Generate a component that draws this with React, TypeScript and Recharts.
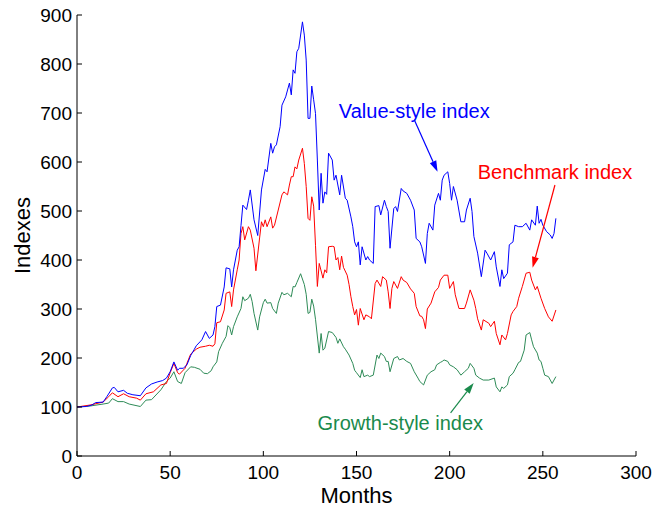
import { LineChart, Line, XAxis, YAxis, ReferenceLine, ReferenceDot } from 'recharts'

const FONT = '"Liberation Sans", Arial, Helvetica, sans-serif'
const INK = '#000000'
const BLUE = '#0000FF'
const RED = '#FF0000'
const GREEN = '#2E8B57'

const X_TICKS = [0, 50, 100, 150, 200, 250, 300]
const Y_TICKS = [0, 100, 200, 300, 400, 500, 600, 700, 800, 900]

// Value-style index
const valueMonths = [
  0, 5, 8, 10, 14, 16, 19, 20, 22, 25, 27, 30, 34, 37, 40, 43, 46, 48, 50, 52,
  54, 55, 57, 59, 61, 63, 64, 67, 69, 71, 73, 74, 75, 77, 79, 80, 82, 83, 84, 86,
  87, 88, 89, 91, 92, 93, 95, 97, 99, 101, 102, 104, 105, 106, 107, 109, 110, 112, 114, 115,
  116, 117, 118, 119, 121, 122, 123, 124, 125, 126, 127, 128, 129, 130, 131, 132, 133, 134, 135, 137,
  138, 139, 141, 142, 144, 145, 147, 148, 149, 150, 151, 152, 153, 155, 156, 157, 159, 160, 162, 163,
  165, 166, 167, 168, 170, 171, 172, 174, 175, 177, 179, 181, 182, 184, 185, 187, 188, 189, 191, 192,
  194, 195, 196, 197, 199, 200, 201, 202, 204, 206, 208, 209, 211, 212, 213, 215, 217, 219, 220, 222,
  224, 225, 227, 228, 229, 231, 232, 234, 235, 237, 239, 241, 243, 244, 246, 247, 248, 249, 250, 252,
  254, 255, 256, 257,
]
const valueLevels = [
  100, 101, 104, 109, 110, 121, 139, 140, 131, 134, 128, 125, 123, 139, 147, 151, 154, 159, 172, 192,
  175, 179, 179, 186, 205, 218, 225, 237, 254, 240, 247, 264, 305, 308, 345, 384, 382, 345, 380, 420,
  427, 470, 512, 503, 522, 543, 482, 450, 543, 585, 580, 638, 618, 631, 635, 672, 716, 733, 761, 737,
  788, 781, 825, 832, 886, 859, 808, 689, 689, 755, 727, 699, 604, 502, 577, 516, 539, 534, 618, 604,
  563, 573, 533, 573, 526, 522, 488, 468, 437, 427, 437, 390, 427, 400, 407, 400, 393, 509, 511, 492,
  522, 509, 499, 424, 505, 509, 499, 546, 541, 536, 522, 502, 444, 437, 427, 393, 454, 475, 461, 512,
  536, 522, 563, 573, 580, 556, 522, 550, 522, 478, 478, 502, 526, 499, 448, 414, 366, 420, 414, 400,
  417, 386, 346, 380, 362, 373, 431, 437, 471, 468, 468, 475, 461, 482, 471, 510, 475, 483, 471, 458,
  451, 444, 454, 485,
]

// Benchmark index
const benchMonths = [
  0, 7, 14, 17, 19, 22, 25, 28, 32, 34, 37, 41, 45, 48, 50, 52, 54, 55, 58, 59,
  61, 64, 66, 69, 71, 73, 74, 75, 77, 79, 80, 82, 83, 84, 86, 87, 88, 89, 90, 92,
  93, 95, 96, 98, 99, 100, 101, 102, 104, 105, 106, 108, 110, 111, 112, 113, 114, 115, 116, 117,
  118, 119, 121, 122, 123, 124, 125, 126, 127, 128, 129, 130, 132, 133, 134, 135, 137, 138, 139, 140,
  141, 142, 143, 145, 146, 147, 148, 149, 150, 151, 152, 154, 155, 157, 158, 160, 161, 163, 164, 166,
  167, 168, 169, 170, 172, 174, 175, 177, 179, 181, 182, 184, 185, 186, 187, 188, 190, 192, 194, 195,
  197, 199, 200, 202, 203, 205, 208, 209, 211, 213, 214, 215, 217, 218, 221, 222, 224, 225, 227, 228,
  230, 231, 233, 234, 236, 237, 239, 241, 243, 244, 246, 247, 249, 251, 253, 255, 257,
]
const benchLevels = [
  100, 104, 110, 121, 129, 121, 127, 121, 118, 114, 127, 131, 145, 148, 170, 189, 170, 167, 179, 189,
  208, 218, 222, 224, 226, 224, 229, 272, 274, 298, 332, 335, 305, 339, 380, 400, 454, 468, 441, 468,
  461, 424, 378, 445, 478, 468, 482, 468, 488, 465, 471, 502, 533, 539, 536, 533, 553, 570, 570, 590,
  586, 604, 628, 597, 550, 485, 481, 529, 510, 430, 346, 393, 363, 380, 374, 427, 428, 427, 400, 405,
  380, 408, 385, 369, 350, 325, 305, 288, 299, 267, 301, 278, 288, 284, 280, 352, 359, 346, 366, 359,
  335, 301, 342, 356, 342, 366, 359, 354, 341, 332, 305, 286, 285, 278, 260, 300, 312, 335, 344, 359,
  369, 369, 342, 356, 329, 301, 301, 312, 339, 318, 301, 280, 257, 278, 271, 264, 275, 250, 227, 247,
  237, 250, 288, 295, 305, 322, 346, 373, 375, 359, 339, 346, 322, 301, 284, 275, 298,
]

// Growth-style index
const growthMonths = [
  0, 7, 14, 17, 19, 22, 25, 28, 34, 37, 40, 45, 48, 50, 52, 54, 56, 58, 61, 63,
  66, 68, 70, 72, 73, 75, 76, 78, 80, 81, 82, 83, 84, 86, 88, 89, 90, 92, 93, 94,
  95, 97, 98, 100, 101, 102, 104, 105, 107, 108, 110, 111, 113, 115, 116, 117, 118, 120, 122, 123,
  124, 125, 126, 127, 128, 130, 131, 132, 133, 135, 137, 139, 140, 141, 143, 144, 146, 148, 149, 150,
  152, 153, 154, 156, 157, 159, 161, 162, 163, 165, 166, 167, 168, 170, 172, 173, 175, 177, 179, 181,
  183, 184, 186, 188, 190, 192, 193, 195, 196, 197, 199, 200, 202, 204, 206, 208, 210, 211, 213, 214,
  216, 218, 221, 224, 225, 227, 228, 229, 231, 232, 234, 235, 237, 238, 240, 241, 243, 244, 245, 247,
  248, 249, 250, 251, 253, 254, 255, 257,
]
const growthLevels = [
  100, 102, 106, 108, 117, 111, 111, 106, 101, 114, 115, 135, 152, 159, 172, 152, 148, 170, 182, 181,
  177, 169, 168, 174, 182, 192, 213, 230, 244, 266, 262, 247, 264, 284, 301, 325, 317, 322, 330, 315,
  291, 257, 284, 313, 320, 312, 313, 301, 291, 312, 334, 329, 332, 325, 346, 345, 354, 372, 350, 330,
  291, 293, 320, 306, 279, 210, 250, 216, 220, 254, 252, 242, 230, 239, 223, 218, 206, 189, 175, 170,
  160, 176, 162, 165, 162, 165, 206, 199, 210, 203, 193, 193, 172, 199, 203, 196, 199, 193, 189, 172,
  159, 152, 145, 165, 172, 176, 186, 191, 193, 196, 193, 186, 182, 176, 165, 172, 179, 189, 179, 165,
  159, 155, 155, 159, 141, 131, 141, 138, 145, 162, 169, 176, 191, 193, 216, 247, 252, 237, 223, 210,
  196, 193, 179, 165, 162, 155, 148, 162,
]

const toSeries = (months: number[], levels: number[]) =>
  months.map((m, i) => ({ month: m, level: levels[i] }))

const valueData = toSeries(valueMonths, valueLevels)
const benchData = toSeries(benchMonths, benchLevels)
const growthData = toSeries(growthMonths, growthLevels)

// text labels and their pointer arrows, in data units
const NOTES = [
  { text: 'Value-style index', color: BLUE, at: { x: 181, y: 705 }, from: { x: 181, y: 686 }, to: { x: 193.5, y: 580 } },
  { text: 'Benchmark index', color: RED, at: { x: 256.5, y: 580 }, from: { x: 256.5, y: 553 }, to: { x: 244.5, y: 384 } },
  { text: 'Growth-style index', color: '#1A8A4C', at: { x: 173.5, y: 67 }, from: { x: 200.5, y: 88 }, to: { x: 212.9, y: 149 } },
]

const TICK_LEN = 5

function BottomTick({ x, y, payload }: any) {
  return (
    <g>
      <line x1={x} x2={x} y1={y} y2={y - TICK_LEN} stroke={INK} />
      <text x={x} y={y + 23} textAnchor="middle" fontSize={19} fontFamily={FONT} fill={INK}>
        {payload.value}
      </text>
    </g>
  )
}

function LeftTick({ x, y, payload }: any) {
  return (
    <g>
      <line x1={x} x2={x + TICK_LEN} y1={y} y2={y} stroke={INK} />
      <text x={x - 5} y={y + 7} textAnchor="end" fontSize={19} fontFamily={FONT} fill={INK}>
        {payload.value}
      </text>
    </g>
  )
}

const TopTick = ({ x, y }: any) => <line x1={x} x2={x} y1={y} y2={y + TICK_LEN} stroke={INK} />
const RightTick = ({ x, y }: any) => <line x1={x} x2={x - TICK_LEN} y1={y} y2={y} stroke={INK} />

function arrowShape(color: string) {
  return ({ x1, y1, x2, y2 }: any) => {
    const ang = Math.atan2(y2 - y1, x2 - x1)
    const len = 11
    const half = 3.5
    const bx = x2 - len * Math.cos(ang)
    const by = y2 - len * Math.sin(ang)
    const px = half * Math.sin(ang)
    const py = -half * Math.cos(ang)
    return (
      <g>
        <line x1={x1} y1={y1} x2={bx} y2={by} stroke={color} strokeWidth={1.2} />
        <polygon points={`${x2},${y2} ${bx + px},${by + py} ${bx - px},${by - py}`} fill={color} />
      </g>
    )
  }
}

function noteShape(text: string, color: string) {
  return ({ cx, cy }: any) => (
    <text x={cx} y={cy + 7} textAnchor="middle" fontSize={20} fontFamily={FONT} fill={color}>
      {text}
    </text>
  )
}

export default function App() {
  return (
    <div style={{ position: 'absolute', left: 0, top: 0, width: 668, height: 508, background: '#fff' }}>
      <LineChart width={668} height={508} margin={{ top: 15, right: 32, bottom: 0, left: 0 }}>
        <XAxis
          dataKey="month"
          type="number"
          domain={[0, 300]}
          ticks={X_TICKS}
          interval={0}
          height={52}
          tickSize={0}
          tickMargin={0}
          tickLine={false}
          axisLine={{ stroke: INK }}
          tick={<BottomTick />}
          label={(p: any) => (
            <text
              x={p.viewBox.x + p.viewBox.width / 2}
              y={p.viewBox.y + 47}
              textAnchor="middle"
              fontSize={22}
              fontFamily={FONT}
              fill={INK}
            >
              Months
            </text>
          )}
        />
        <XAxis
          xAxisId="top"
          orientation="top"
          type="number"
          domain={[0, 300]}
          ticks={X_TICKS}
          interval={0}
          height={0}
          tickSize={0}
          tickMargin={0}
          tickLine={false}
          axisLine={{ stroke: INK }}
          tick={<TopTick />}
        />
        <YAxis
          type="number"
          domain={[0, 900]}
          ticks={Y_TICKS}
          interval={0}
          width={77}
          tickSize={0}
          tickMargin={0}
          tickLine={false}
          axisLine={{ stroke: INK }}
          tick={<LeftTick />}
          label={(p: any) => {
            const cx = p.viewBox.x + 30
            const cy = p.viewBox.y + p.viewBox.height / 2
            return (
              <text
                x={cx}
                y={cy}
                transform={`rotate(-90, ${cx}, ${cy})`}
                textAnchor="middle"
                fontSize={22}
                fontFamily={FONT}
                fill={INK}
              >
                Indexes
              </text>
            )
          }}
        />
        <YAxis
          yAxisId="right"
          orientation="right"
          type="number"
          domain={[0, 900]}
          ticks={Y_TICKS}
          interval={0}
          width={0}
          tickSize={0}
          tickMargin={0}
          tickLine={false}
          axisLine={{ stroke: INK }}
          tick={<RightTick />}
        />
        <Line data={growthData} dataKey="level" stroke={GREEN} strokeWidth={1} dot={false} activeDot={false} isAnimationActive={false} />
        <Line data={benchData} dataKey="level" stroke={RED} strokeWidth={1} dot={false} activeDot={false} isAnimationActive={false} />
        <Line data={valueData} dataKey="level" stroke={BLUE} strokeWidth={1} dot={false} activeDot={false} isAnimationActive={false} />
        {NOTES.map((n) => (
          <ReferenceLine key={n.text + '-arrow'} segment={[n.from, n.to]} shape={arrowShape(n.color)} />
        ))}
        {NOTES.map((n) => (
          <ReferenceDot key={n.text} x={n.at.x} y={n.at.y} r={0} shape={noteShape(n.text, n.color)} />
        ))}
      </LineChart>
    </div>
  )
}
